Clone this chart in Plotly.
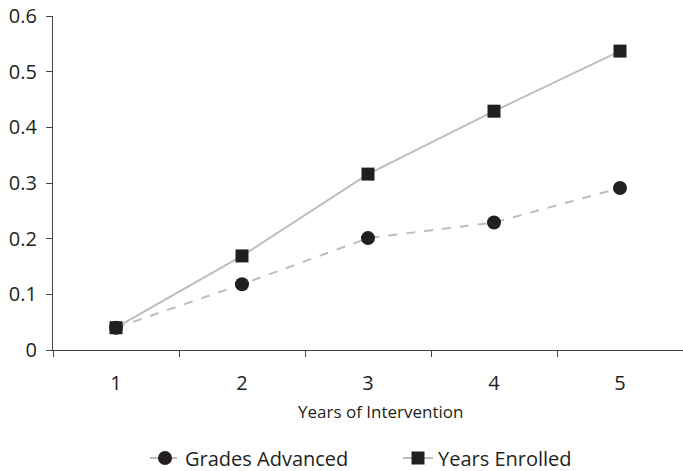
import plotly.graph_objects as go

years = ["1", "2", "3", "4", "5"]
grades_advanced = [0.04, 0.118, 0.201, 0.229, 0.291]
years_enrolled = [0.04, 0.169, 0.316, 0.429, 0.537]
y_ticks = [0, 0.1, 0.2, 0.3, 0.4, 0.5, 0.6]
y_tick_labels = ["0", "0.1", "0.2", "0.3", "0.4", "0.5", "0.6"]
x_title = "Years of Intervention"

FONT = "Open Sans, Noto Sans, sans-serif"
INK = "#231f20"

fig = go.Figure()
fig.add_trace(go.Scatter(
    x=years, y=grades_advanced, name="Grades Advanced", mode="lines+markers",
    line=dict(color="#bdbdbd", width=2, dash="dash"),
    marker=dict(symbol="circle", size=14, color=INK),
))
fig.add_trace(go.Scatter(
    x=years, y=years_enrolled, name="Years Enrolled", mode="lines+markers",
    line=dict(color="#bdbdbd", width=2),
    marker=dict(symbol="square", size=13, color=INK),
))

W, H = 683, 471
PLOT_H = 334
fig.update_layout(
    width=W, height=H,
    margin=dict(l=53, r=0, t=16, b=121, autoexpand=False),
    paper_bgcolor="white", plot_bgcolor="white",
    font=dict(family=FONT, color=INK),
    showlegend=True,
    legend=dict(orientation="h", xref="container", yref="container",
                x=145 / W, xanchor="left", y=(H - 458) / H, yanchor="middle",
                font=dict(size=20, color=INK), itemwidth=30,
                entrywidthmode="pixels", entrywidth=208),
    xaxis=dict(
        type="category", range=[-0.5, 4.5], showgrid=False, zeroline=False,
        automargin=False,
        showline=True, linecolor="#444444", linewidth=1.2,
        ticks="outside", tickson="boundaries", ticklen=6, tickcolor="#444444",
        tickfont=dict(size=20, color=INK), ticklabelstandoff=15,
    ),
    yaxis=dict(
        range=[0, 0.6], showgrid=False, zeroline=False, automargin=False,
        showline=True, linecolor="#444444", linewidth=1.2,
        ticks="outside", ticklen=6, tickcolor="#444444",
        tickvals=y_ticks, ticktext=y_tick_labels, ticklabeloverflow="allow",
        tickfont=dict(size=20, color=INK), ticklabelstandoff=5,
    ),
    annotations=[dict(
        text=x_title, xref="paper", yref="paper",
        x=(381 - 53) / 630, y=-61 / PLOT_H, xanchor="center", yanchor="middle",
        showarrow=False, font=dict(size=17, color=INK),
    )],
)

fig.write_html("out.html", config={"displayModeBar": False},
               post_script="document.body.style.margin='0';")
